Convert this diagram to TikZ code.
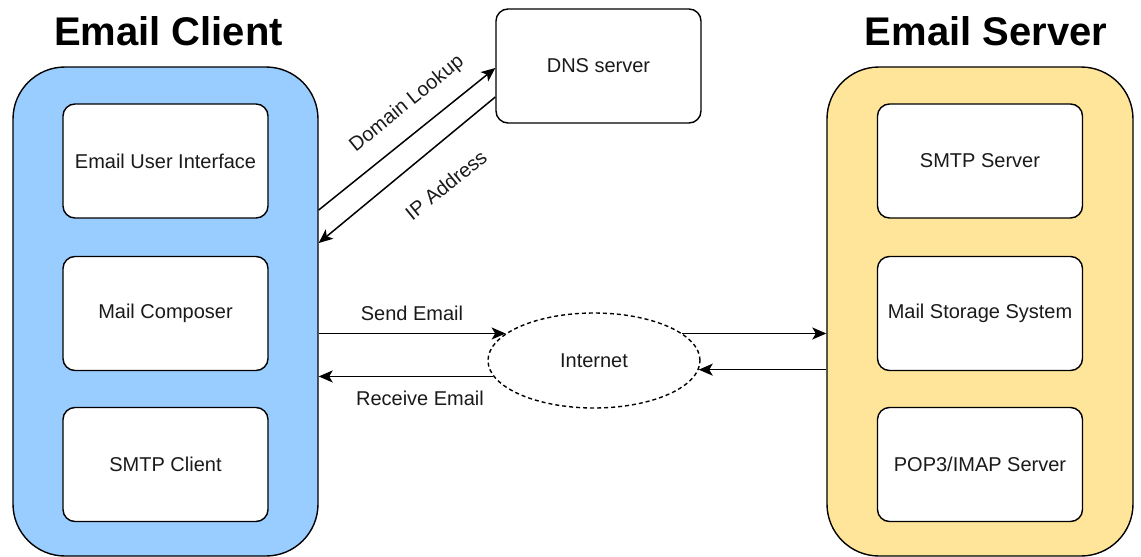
\documentclass[tikz,border=0pt]{standalone}
\usepackage{fontspec}
\setmainfont{Liberation Sans}
\usetikzlibrary{shapes.geometric,arrows.meta}
\definecolor{clientblue}{HTML}{99CCFF}
\definecolor{serveryellow}{HTML}{FFE599}
\definecolor{txt}{HTML}{1A1A1A}
\begin{document}
\begin{tikzpicture}[x=1pt,y=-1pt,
  container/.style={draw=black, line width=1.4pt, rounded corners=52pt, inner sep=0pt,
    minimum height=489pt},
  comp/.style={draw=black, fill=white, line width=1.4pt, rounded corners=12pt,
    minimum width=205pt, minimum height=114pt, inner sep=0pt,
    font=\fontsize{20}{24}\selectfont, text=txt},
  titletext/.style={font=\fontsize{40}{48}\selectfont\bfseries, anchor=base, inner sep=0pt},
  lbl/.style={font=\fontsize{20}{24}\selectfont, text=txt, inner sep=0pt},
  arr/.style={line width=1.5pt, -{Stealth[length=14pt,width=12pt,inset=3.5pt]}}]
\useasboundingbox (0,0) rectangle (1141,557);

% titles
\node[titletext] (ctitle) at (168.5,45) {Email Client};
\node[titletext] (stitle) at (986,45) {Email Server};

% containers
\node[container, fill=clientblue, minimum width=305pt] (client) at (165.5,311.5) {};
\node[container, fill=serveryellow, minimum width=306pt] (server) at (980,311.5) {};

% client components
\node[comp] (ui) at (165.5,161) {Email User Interface};
\node[comp] (composer) at (165.5,313.5) {Mail Composer};
\node[comp] (smtpc) at (165.5,464.5) {SMTP Client};

% server components
\node[comp] (smtps) at (980,161) {SMTP Server};
\node[comp] (storage) at (980,313.5) {Mail Storage System};
\node[comp] (pop) at (980,464.5) {POP3/IMAP Server};

% DNS server
\node[comp] (dns) at (598.5,66) {DNS server};

% Internet
\node[ellipse, draw=black, line width=1.4pt, dash pattern=on 4pt off 3pt,
  minimum width=212pt, minimum height=95pt, inner sep=0pt,
  font=\fontsize{20}{24}\selectfont, text=txt] (inet) at (594,360.5) {Internet};

% DNS connectors
\draw[arr] ([yshift=101.5pt]client.east) -- ([yshift=-2pt]dns.west);
\draw[arr] ([yshift=-31pt]dns.west) -- ([yshift=68.5pt]client.east);
\node[lbl, rotate=39] (lookup) at (407,104) {Domain Lookup};
\node[lbl, rotate=39] (ipaddr) at (446,185) {IP Address};

% mail connectors
\draw[arr] (client.east |- inet.163) -- (inet.163);
\draw[arr] (inet.189) -- (client.east |- inet.189);
\draw[arr] (inet.17) -- (server.west |- inet.17);
\draw[arr] (server.west |- inet.355) -- (inet.355);
\node[lbl] (send) at (412,313) {Send Email};
\node[lbl] (recv) at (420,398) {Receive Email};
\end{tikzpicture}
\end{document}
